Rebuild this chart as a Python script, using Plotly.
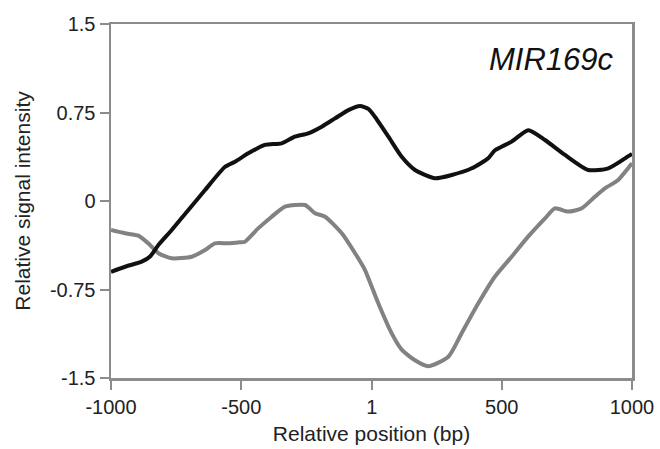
import plotly.graph_objects as go

# Relative position (bp)
black_x = [-1000, -946, -882, -850, -818, -767, -703, -639, -562, -524, -473, -409, -345,
           -294, -243, -191, -140, -89, -44, -12, 13, 65, 116, 167, 244, 308, 385, 448,
           474, 538, 602, 666, 743, 832, 909, 986, 1000]
black_y = [-0.60, -0.557, -0.514, -0.47, -0.373, -0.246, -0.076, 0.093, 0.29, 0.333, 0.404,
           0.475, 0.489, 0.545, 0.574, 0.63, 0.70, 0.77, 0.805, 0.78, 0.714, 0.545, 0.375,
           0.263, 0.192, 0.22, 0.277, 0.362, 0.43, 0.503, 0.60, 0.517, 0.39, 0.263, 0.277,
           0.38, 0.40]

gray_x = [-1000, -946, -895, -857, -818, -767, -690, -639, -601, -550, -505, -486, -435, -383,
          -332, -255, -217, -178, -114, -63, -25, 26, 77, 116, 167, 218, 295, 346, 410, 474,
          538, 602, 666, 704, 755, 807, 858, 896, 947, 986, 1000]
gray_y = [-0.246, -0.274, -0.294, -0.359, -0.443, -0.486, -0.472, -0.415, -0.359, -0.359,
          -0.35, -0.345, -0.232, -0.133, -0.048, -0.034, -0.104, -0.133, -0.274, -0.443,
          -0.585, -0.867, -1.12, -1.26, -1.35, -1.40, -1.32, -1.12, -0.867, -0.64, -0.472,
          -0.30, -0.147, -0.062, -0.09, -0.062, 0.037, 0.107, 0.178, 0.28, 0.32]

x_tickvals = [-1000, -500, 1, 500, 1000]
x_ticktext = ["-1000", "-500", "1", "500", "1000"]
y_tickvals = [-1.5, -0.75, 0, 0.75, 1.5]
y_ticktext = ["-1.5", "-0.75", "0", "0.75", "1.5"]

FONT = "Liberation Sans, Arial, Helvetica, sans-serif"

fig = go.Figure()
fig.add_trace(go.Scatter(x=gray_x, y=gray_y, mode="lines",
                         line=dict(color="#828282", width=4, shape="spline", smoothing=0.6),
                         showlegend=False))
fig.add_trace(go.Scatter(x=black_x, y=black_y, mode="lines",
                         line=dict(color="#111111", width=4, shape="spline", smoothing=0.6),
                         showlegend=False))

axis_common = dict(showline=True, linecolor="#8c8c8c", linewidth=2.5, mirror=True,
                   showgrid=False, zeroline=False, ticks="outside", ticklen=9,
                   tickwidth=2, tickcolor="#8c8c8c", automargin=False,
                   tickfont=dict(family=FONT, size=20, color="#222"))

fig.update_xaxes(range=[-1000, 1000], tickvals=x_tickvals, ticktext=x_ticktext,
                 title=dict(text="Relative position (bp)", standoff=10,
                            font=dict(family=FONT, size=21, color="#222")),
                 **axis_common)
fig.update_yaxes(range=[-1.5, 1.5], tickvals=y_tickvals, ticktext=y_ticktext,
                 title=dict(text="Relative signal intensity", standoff=14,
                            font=dict(family=FONT, size=21, color="#222")),
                 **axis_common)

fig.add_annotation(text="<i>MIR169c</i>", xref="paper", yref="paper", x=0.97, y=0.955,
                   xanchor="right", yanchor="top", showarrow=False,
                   font=dict(family=FONT, size=31, color="#111"))

fig.update_layout(width=660, height=449, paper_bgcolor="white", plot_bgcolor="white",
                  margin=dict(l=111, r=28, t=24, b=71), hovermode=False)

fig.write_html("out.html", config={"displayModeBar": False, "staticPlot": True},
               post_script="document.body.style.margin='0px';")
